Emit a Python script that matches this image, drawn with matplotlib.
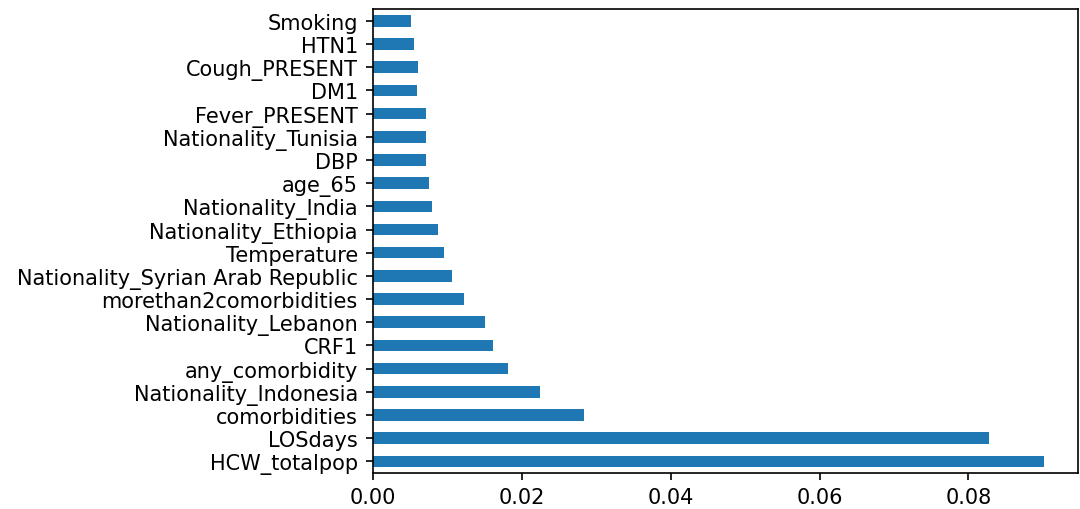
import matplotlib.pyplot as plt
import pandas as pd

# feature importances, bottom to top as drawn
features = ['HCW_totalpop', 'LOSdays', 'comorbidities', 'Nationality_Indonesia',
            'any_comorbidity', 'CRF1', 'Nationality_Lebanon', 'morethan2comorbidities',
            'Nationality_Syrian Arab Republic', 'Temperature', 'Nationality_Ethiopia',
            'Nationality_India', 'age_65', 'DBP', 'Nationality_Tunisia', 'Fever_PRESENT',
            'DM1', 'Cough_PRESENT', 'HTN1', 'Smoking']
importance = [0.0902, 0.0828, 0.0284, 0.0225,
              0.01817, 0.01616, 0.01506, 0.01227,
              0.01064, 0.0095, 0.00874,
              0.0079, 0.0075, 0.0071, 0.00712, 0.00715,
              0.00595, 0.006, 0.00556, 0.00513]

plt.rcParams.update({
    'font.size': 15,
    'axes.linewidth': 1.2,
    'xtick.major.size': 5,
    'ytick.major.size': 5,
    'xtick.major.width': 1.2,
    'ytick.major.width': 1.2,
    'xtick.major.pad': 5,
    'ytick.major.pad': 6,
})

s = pd.Series(importance, index=features)

fig = plt.figure(figsize=(10.8, 5.1), dpi=100)
ax = fig.add_axes([0.3454, 0.0706, 0.6526, 0.9094])
s.plot(kind='barh', ax=ax)

fig.savefig('out.png', dpi=100)
